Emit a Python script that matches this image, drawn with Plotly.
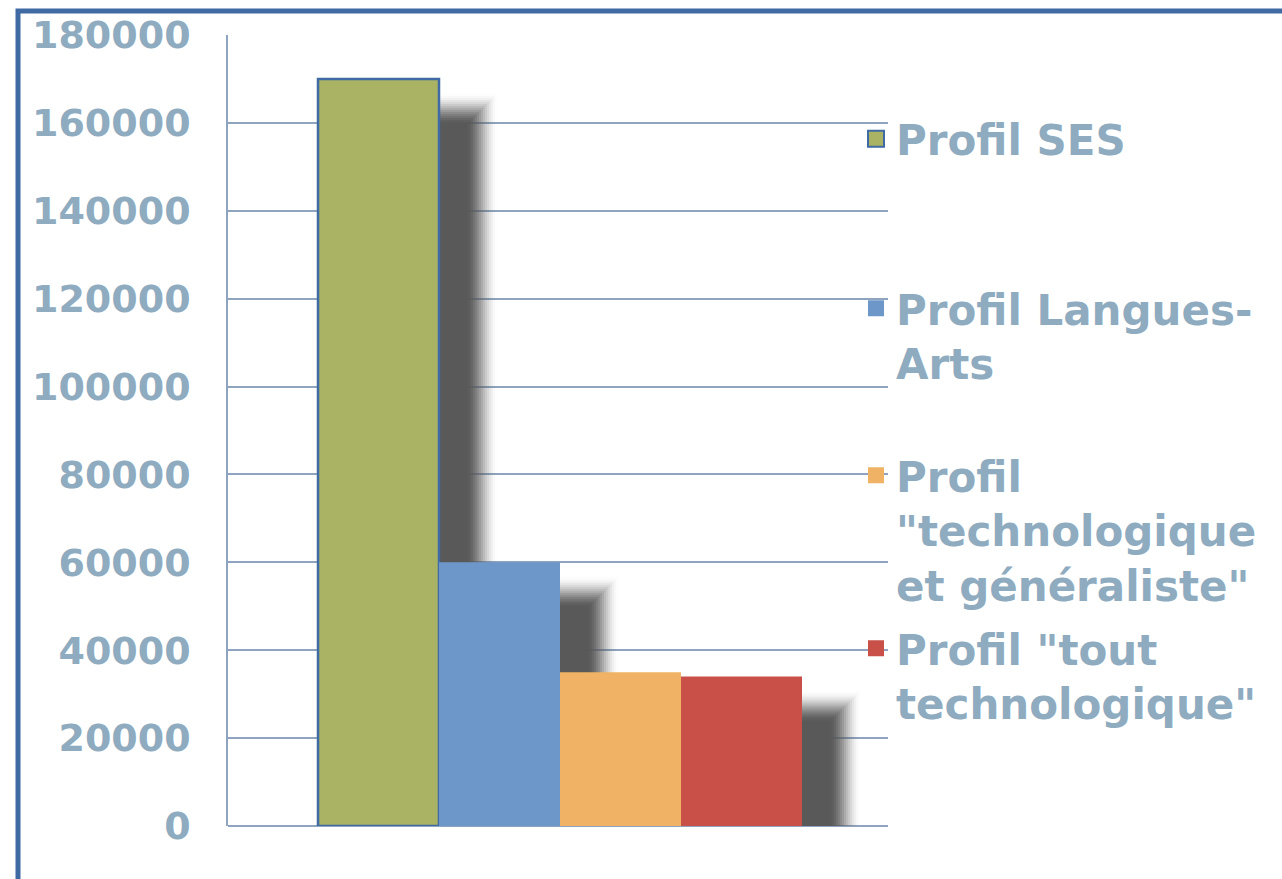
import plotly.graph_objects as go

# ---------------- data ----------------
series_names = [
    "Profil SES",
    "Profil Langues-<br>Arts",
    "Profil<br>\"technologique<br>et généraliste\"",
    "Profil \"tout<br>technologique\"",
]
values = [170000, 60000, 35000, 34000]
group_x = [0]
y_ticks = [0, 20000, 40000, 60000, 80000, 100000, 120000, 140000, 160000, 180000]
colors = ["#aab264", "#6e97c9", "#f0b366", "#c85048"]

# ---------------- geometry / style ----------------
Y_MAX = 180000
PLOT_L, PLOT_R, PLOT_T, PLOT_B = 228, 888, 35, 826
FIG_W, FIG_H = 1282, 879
W_PX = PLOT_R - PLOT_L
H_PX = PLOT_B - PLOT_T
ux = 1.0 / W_PX
uy = Y_MAX / H_PX
bar_w = 121 * ux
group_shift = 2 * ux
offsets = [(-2 + i) * bar_w + group_shift for i in range(4)]
SH_DX, SH_DY = 43, 30
BLUR_R = 15          # half-width of the soft edge in px
N_LAYERS = 16

TXT = "#8eabc0"
GRID = "#8ea4bf"
FRAME = "#3f6aa3"
FONT = "DejaVu Sans"

fig = go.Figure()

# legend proxies (base axes)
legend_ids = ["legend", "legend2", "legend3", "legend4"]
for i, name in enumerate(series_names):
    fig.add_trace(go.Scatter(
        x=[None], y=[None], mode="markers", name=name,
        marker=dict(symbol="square", size=16, color=colors[i],
                    line=dict(color=FRAME if i == 0 else colors[i], width=2 if i == 0 else 0)),
        legend=legend_ids[i], showlegend=True, hoverinfo="skip",
        xaxis="x", yaxis="y",
    ))

# blurred drop shadow: stacked translucent layers, outermost first,
# opacities chosen so the accumulated opacity follows a smooth ramp
def smooth(t):
    return t * t * (3 - 2 * t)

prev = 0.0
for n in range(1, N_LAYERS + 1):
    e = BLUR_R - (n - 1) * (2.0 * BLUR_R / (N_LAYERS - 1))
    target = smooth(n / N_LAYERS)
    a = 1.0 if target >= 0.999 else 1 - (1 - target) / (1 - prev)
    prev = target
    s = SH_DY - e
    fig.add_trace(go.Bar(
        x=group_x * len(values), y=values,
        base=[-s * uy] * len(values),
        offset=[o + SH_DX * ux - e * ux for o in offsets],
        width=[bar_w + 2 * e * ux] * len(values),
        marker=dict(color=f"rgba(89,89,89,{a:.4f})", line=dict(width=0)),
        showlegend=False, hoverinfo="skip",
        xaxis="x", yaxis="y",
    ))

# main bars on an overlaying axis so they sit above the shadows
for i, name in enumerate(series_names):
    fig.add_trace(go.Bar(
        x=group_x, y=[values[i]], name=name,
        offset=offsets[i], width=bar_w,
        marker=dict(color=colors[i],
                    line=dict(color=FRAME if i == 0 else colors[i], width=2.5 if i == 0 else 0)),
        showlegend=False, xaxis="x", yaxis="y2",
    ))

legend_common = dict(
    bgcolor="rgba(0,0,0,0)", borderwidth=0, valign="top",
    font=dict(family=FONT, size=42, color=TXT, weight="bold"),
    xanchor="left", yanchor="middle", itemwidth=30, tracegroupgap=0,
    orientation="v",
)
legend_centers = [139, 336, 530, 676]
legend_left_px = 856
legends = {}
for i, lid in enumerate(legend_ids):
    legends[lid] = dict(legend_common,
                        x=(legend_left_px - PLOT_L) / W_PX,
                        y=(PLOT_B - legend_centers[i]) / H_PX)

fig.update_layout(
    width=FIG_W, height=FIG_H,
    margin=dict(l=PLOT_L, r=FIG_W - PLOT_R, t=PLOT_T, b=FIG_H - PLOT_B, pad=0),
    paper_bgcolor="white", plot_bgcolor="white",
    barmode="overlay",
    xaxis=dict(range=[-0.5, 0.5], showgrid=False, zeroline=False, showticklabels=False,
               showline=False, ticks="", fixedrange=True),
    yaxis=dict(range=[0, Y_MAX], tickvals=y_ticks, ticktext=[str(v) for v in y_ticks],
               showgrid=True, gridcolor=GRID, gridwidth=1.5,
               zeroline=True, zerolinecolor=GRID, zerolinewidth=1.5,
               showline=True, linecolor=GRID, linewidth=1.5,
               ticks="", ticklabelstandoff=28,
               tickfont=dict(family=FONT, size=38, color=TXT, weight="bold"),
               fixedrange=True),
    yaxis2=dict(overlaying="y", range=[0, Y_MAX], visible=False,
                showgrid=False, zeroline=False, fixedrange=True),
    shapes=[dict(type="rect", xref="paper", yref="paper",
                 x0=(18 - PLOT_L) / W_PX, x1=(FIG_W + 20 - PLOT_L) / W_PX,
                 y0=(PLOT_B - (FIG_H + 20)) / H_PX, y1=(PLOT_B - 11) / H_PX,
                 line=dict(color=FRAME, width=5), fillcolor="rgba(0,0,0,0)", layer="above")],
    **legends,
)

fig.write_html("out.html",
               config={"displayModeBar": False},
               post_script="document.body.style.margin='0';document.body.style.overflow='hidden';")
